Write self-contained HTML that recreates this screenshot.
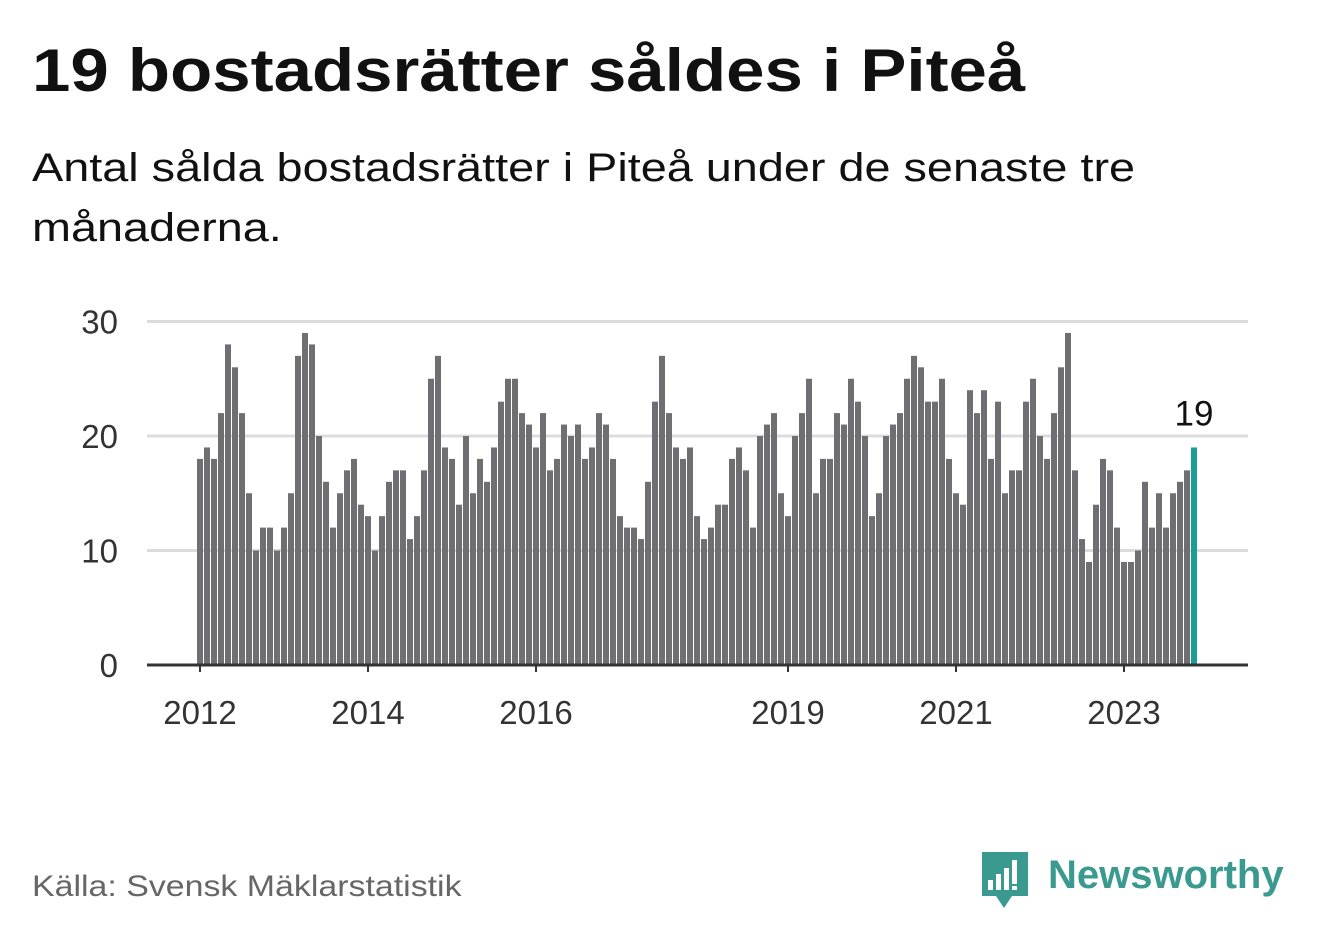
<!DOCTYPE html>
<html><head><meta charset="utf-8"><style>
body{margin:0;background:#fff;width:1322px;height:939px;overflow:hidden;font-family:"Liberation Sans",sans-serif;}
#title{position:absolute;left:32px;top:36px;font-size:60px;font-weight:bold;color:#111;white-space:nowrap;transform:scaleX(1.15);transform-origin:left top;}
#sub{position:absolute;left:32px;top:138px;font-size:40px;line-height:60px;color:#111;white-space:nowrap;transform:scaleX(1.17);transform-origin:left top;}
#src{position:absolute;left:32px;top:870px;font-size:30px;color:#666;white-space:nowrap;transform:scaleX(1.13);transform-origin:left top;}
#logo{position:absolute;left:980px;top:850px;}
</style></head><body>
<div id="title">19 bostadsrätter såldes i Piteå</div>
<div id="sub">Antal sålda bostadsrätter i Piteå under de senaste tre<br>månaderna.</div>
<svg id="chart" width="1322" height="939" style="position:absolute;left:0;top:0"></svg>
<div id="src">Källa: Svensk Mäklarstatistik</div>
<div id="logo">
<svg width="320" height="60">
<path d="M2 2h46v44h-16l-8 12-8-12H2z" fill="#3a9a8f"/>
<rect x="8" y="30" width="5" height="10" fill="#fff"/><rect x="16" y="24" width="5" height="16" fill="#fff"/><rect x="24" y="18" width="5" height="22" fill="#fff"/><rect x="32" y="10" width="5" height="24" fill="#fff"/><rect x="32" y="36" width="5" height="4" fill="#fff"/>
<text x="68" y="38" font-size="40" font-weight="bold" fill="#3a9a8f" font-family="Liberation Sans, sans-serif">Newsworthy</text>
</svg></div>
<script>
const values=[18,19,18,22,28,26,22,15,10,12,12,10,
12,15,27,29,28,20,16,12,15,17,18,14,
13,10,13,16,17,17,11,13,17,25,27,19,
18,14,20,15,18,16,19,23,25,25,22,21,
19,22,17,18,21,20,21,18,19,22,21,18,
13,12,12,11,16,23,27,22,19,18,19,13,
11,12,14,14,18,19,17,12,20,21,22,15,
13,20,22,25,15,18,18,22,21,25,23,20,
13,15,20,21,22,25,27,26,23,23,25,18,
15,14,24,22,24,18,23,15,17,17,23,25,
20,18,22,26,29,17,11,9,14,18,17,12,
9,9,10,16,12,15,12,15,16,17,19];
const yTicks=[0,10,20,30];
const xTickYears=[2012,2014,2016,2019,2021,2023];
const NS="http://www.w3.org/2000/svg";
const svg=document.getElementById('chart');
const y=v=>665-v*11.45;
const x=i=>200+i*7;
function mk(t,a){const e=document.createElementNS(NS,t);for(const k in a)e.setAttribute(k,a[k]);svg.appendChild(e);return e;}
yTicks.forEach(v=>{
 if(v>0){const g=mk('line',{x1:147,x2:1248,y1:y(v),y2:y(v),stroke:'#dcdcdc','stroke-width':3});
 
 }
 const t=mk('text',{x:118,y:y(v)+12,'font-size':33,'text-anchor':'end',fill:'#333'});t.textContent=v;
 
 
});
values.forEach((v,i)=>{
 const last=i===values.length-1;
 const r=mk('rect',{x:x(i)-3,y:y(v),width:6,height:665-y(v),fill:last?'#1a9e96':'#6f6e73'});
 
 
 if(last){const t=mk('text',{x:x(i),y:y(v)-22,'font-size':35,'text-anchor':'middle',fill:'#111'});t.textContent=v;
 
 }
});
const ax=mk('line',{x1:147,x2:1248,y1:665,y2:665,stroke:'#333','stroke-width':3});


xTickYears.forEach(yr=>{
 const i=(yr-2012)*12;
 const tk=mk('line',{x1:x(i),x2:x(i),y1:665,y2:672,stroke:'#333','stroke-width':2});
 
 
 const t=mk('text',{x:x(i),y:724,'font-size':33,'text-anchor':'middle',fill:'#333'});t.textContent=yr;
 
 
});
</script>
</body></html>
